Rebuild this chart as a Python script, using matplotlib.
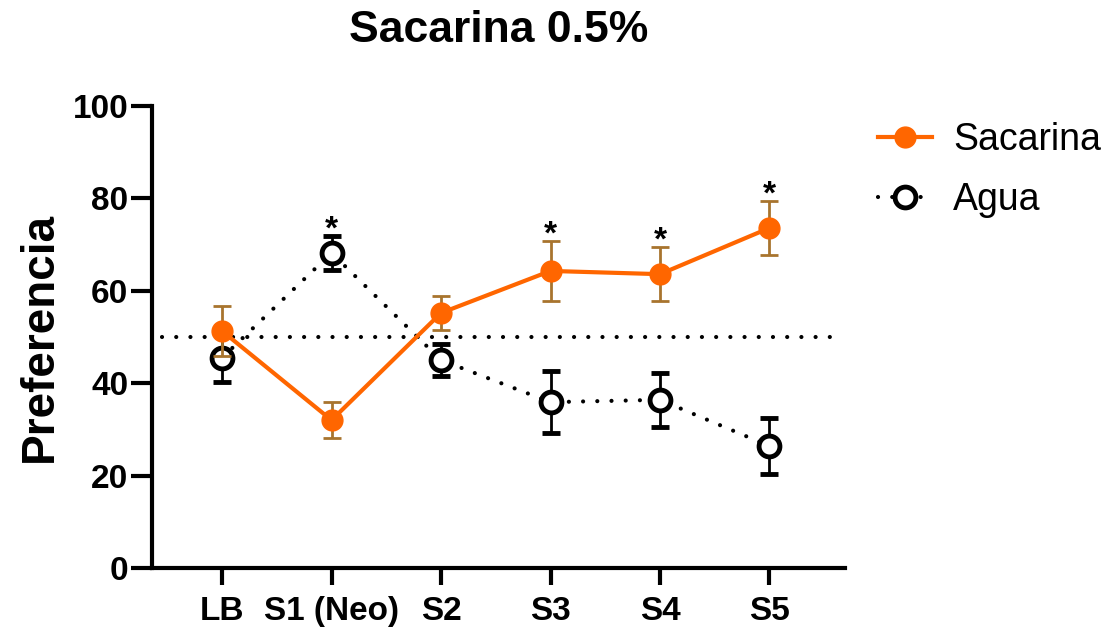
import numpy as np
import matplotlib.pyplot as plt

plt.rcParams['font.family'] = ['Liberation Sans', 'DejaVu Sans']

sesiones = ["LB", "S1 (Neo)", "S2", "S3", "S4", "S5"]
sacarina = [51.3, 32.0, 55.2, 64.3, 63.6, 73.6]
sacarina_err = [5.4, 3.9, 3.7, 6.5, 5.9, 5.8]
agua = [45.5, 68.2, 45.0, 35.9, 36.4, 26.4]
agua_err = [5.2, 3.7, 3.5, 6.7, 5.8, 6.1]
signif = [False, True, False, True, True, True]

x = np.arange(len(sesiones))
naranja = "#FF6600"
cafe = "#A8742E"

fig = plt.figure(figsize=(11.14, 6.31), dpi=100)
ax = fig.add_axes([152 / 1114, 1 - 568 / 631, (845 - 152) / 1114, (568 - 106) / 631])

dots = (0, (0.01, 3.4))

# linea de referencia al 50%
ax.plot([-0.55, 5.55], [50, 50], color="black", lw=3, linestyle=dots,
        dash_capstyle="round", zorder=1)

ax.errorbar(x, agua, yerr=agua_err, color="black", lw=3, linestyle=dots,
            dash_capstyle="round", marker="o", markersize=15, mfc="white",
            mec="black", mew=3.5, ecolor="black", elinewidth=2, capsize=6.5,
            capthick=2, label="Agua", zorder=2)
ax.errorbar(x, sacarina, yerr=sacarina_err, color=naranja, lw=3,
            marker="o", markersize=15, ecolor=cafe, elinewidth=2, capsize=6.5,
            capthick=2, label="Sacarina", zorder=3)

for xi, s, e, a, ea, sig in zip(x, sacarina, sacarina_err, agua, agua_err, signif):
    if sig:
        top = max(s + e, a + ea)
        ax.text(xi, top - 0.6, "*", ha="center", va="baseline", fontsize=24,
                fontweight="bold")

ax.set_xlim(-0.64, 5.69)
ax.set_ylim(0, 100)
ax.set_yticks([0, 20, 40, 60, 80, 100])
ax.set_xticks(x)
ax.set_xticklabels(sesiones)
for s in ["top", "right"]:
    ax.spines[s].set_visible(False)
for s in ["left", "bottom"]:
    ax.spines[s].set_linewidth(3)
ax.tick_params(axis="y", length=15, width=3, labelsize=24, pad=2)
ax.tick_params(axis="x", length=12, width=3, labelsize=24, pad=8)
for lab in ax.get_xticklabels() + ax.get_yticklabels():
    lab.set_fontweight("bold")

ax.set_ylabel("Preferencia", fontsize=33, fontweight="bold", labelpad=8)
ax.set_title("Sacarina 0.5%", fontsize=32, fontweight="bold", pad=46)

h, l = ax.get_legend_handles_labels()
h = [hh[0] for hh in h]
fig.legend(h[::-1], l[::-1], loc="upper left", bbox_to_anchor=(878 / 1114, 1 - 122 / 631),
           frameon=False, fontsize=27, handlelength=1.45, labelspacing=0.65,
           handletextpad=0.55, borderpad=0, borderaxespad=0)

fig.savefig("out.png", dpi=100)
